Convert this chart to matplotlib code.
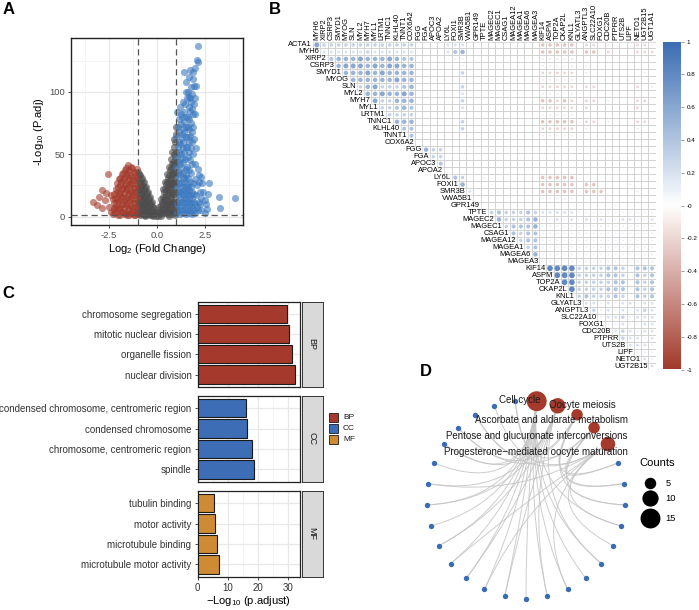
import numpy as np
import matplotlib.pyplot as plt
from matplotlib.colors import LinearSegmentedColormap, Normalize
from matplotlib.patches import Rectangle, PathPatch
from matplotlib.collections import PatchCollection
from matplotlib.path import Path

plt.rcParams['font.family'] = ['Liberation Sans', 'DejaVu Sans']
plt.rcParams['mathtext.fontset'] = 'custom'
plt.rcParams['mathtext.rm'] = 'Liberation Sans'
plt.rcParams['mathtext.default'] = 'regular'
plt.rcParams['axes.unicode_minus'] = False

# ---------------- A: volcano (log2FC, -log10 padj) ----------------
red_pts = [(-1.05, 38), (-1.1, 32), (-1.05, 26), (-1.12, 20), (-1.05, 14), (-1.1, 8), (-1.05, 3),
           (-1.2, 36), (-1.25, 29), (-1.2, 23), (-1.25, 17), (-1.2, 11), (-1.25, 5), (-1.2, 1.5),
           (-1.35, 40), (-1.4, 33), (-1.35, 27), (-1.4, 21), (-1.35, 15), (-1.4, 9), (-1.35, 3),
           (-1.5, 41), (-1.55, 35), (-1.5, 29), (-1.55, 23), (-1.5, 17), (-1.55, 11), (-1.5, 5), (-1.55, 1.5),
           (-1.65, 37), (-1.7, 31), (-1.65, 25), (-1.7, 19), (-1.65, 13), (-1.7, 7), (-1.65, 2),
           (-1.8, 34), (-1.85, 28), (-1.8, 22), (-1.85, 16), (-1.8, 10), (-1.85, 4),
           (-1.95, 30), (-2.0, 24), (-1.95, 18), (-2.0, 12), (-1.95, 6), (-2.0, 1.5),
           (-2.1, 22), (-2.15, 15), (-2.1, 9), (-2.15, 3), (-2.3, 14), (-2.25, 7), (-2.3, 2),
           (-2.56, 34), (-2.87, 21), (-3.3, 11.5), (-2.7, 13), (-2.4, 17), (-2.5, 8),
           (-2.85, 6.5), (-3.0, 16), (-2.65, 19), (-3.1, 9), (-2.4, 4),
           (-1.12, 35), (-1.08, 29), (-1.15, 23), (-1.1, 17), (-1.15, 11), (-1.08, 5.5), (-1.15, 1),
           (-1.28, 39), (-1.3, 32), (-1.28, 26), (-1.3, 20), (-1.28, 14), (-1.3, 8), (-1.3, 2.5),
           (-1.45, 37), (-1.45, 31), (-1.45, 25), (-1.45, 19), (-1.45, 13), (-1.45, 7), (-1.45, 1),
           (-1.6, 39), (-1.6, 33), (-1.6, 27), (-1.6, 21), (-1.6, 15), (-1.6, 9), (-1.6, 3),
           (-1.75, 35), (-1.75, 29), (-1.75, 23), (-1.75, 16), (-1.75, 10), (-1.75, 4),
           (-1.9, 31), (-1.9, 25), (-1.9, 19), (-1.9, 13), (-1.9, 7), (-1.9, 1.5),
           (-2.05, 27), (-2.05, 20), (-2.05, 14), (-2.05, 7), (-2.2, 18), (-2.2, 11), (-2.2, 5)]
grey_pts = [(-0.98, 36), (-0.96, 30), (-0.97, 24), (-0.95, 18), (-0.98, 12), (-0.96, 6), (-0.97, 2),
            (-0.88, 33), (-0.86, 27), (-0.89, 21), (-0.87, 15), (-0.85, 9), (-0.88, 4), (-0.86, 1),
            (-0.78, 31), (-0.76, 25), (-0.79, 19), (-0.75, 13), (-0.77, 7), (-0.76, 2),
            (-0.68, 28), (-0.66, 22), (-0.69, 16), (-0.65, 10), (-0.67, 4), (-0.66, 1),
            (-0.58, 24), (-0.56, 18), (-0.59, 12), (-0.55, 6), (-0.57, 1),
            (-0.48, 20), (-0.46, 14), (-0.49, 8), (-0.45, 3), (-0.38, 16), (-0.36, 10), (-0.39, 5), (-0.35, 1),
            (-0.28, 12), (-0.26, 6), (-0.27, 1), (-0.18, 7), (-0.16, 3), (-0.08, 3), (-0.03, 0.5), (0.03, 0.5),
            (0.08, 4), (0.12, 8), (0.14, 2), (0.2, 14), (0.22, 9), (0.24, 3),
            (0.3, 22), (0.32, 16), (0.31, 10), (0.34, 4), (0.4, 28), (0.42, 22), (0.41, 15), (0.44, 9), (0.43, 3),
            (0.5, 34), (0.52, 28), (0.51, 21), (0.54, 14), (0.53, 8), (0.55, 2),
            (0.6, 40), (0.62, 33), (0.61, 26), (0.64, 19), (0.63, 12), (0.65, 5),
            (0.7, 46), (0.72, 39), (0.71, 31), (0.74, 24), (0.73, 16), (0.75, 9), (0.74, 2),
            (0.8, 52), (0.82, 44), (0.81, 36), (0.84, 28), (0.83, 20), (0.85, 12), (0.84, 5),
            (0.88, 62), (0.9, 56), (0.92, 48), (0.91, 40), (0.94, 32), (0.93, 24), (0.95, 16), (0.96, 8),
            (0.95, 1), (0.97, 72), (0.98, 66), (-0.6, 0.3), (-0.2, 0.3), (0.2, 0.3), (0.6, 0.3),
            (-0.92, 34), (-0.92, 27), (-0.92, 21), (-0.92, 15), (-0.92, 9), (-0.92, 3),
            (-0.82, 30), (-0.82, 24), (-0.82, 18), (-0.82, 12), (-0.82, 6),
            (-0.72, 27), (-0.72, 21), (-0.72, 15), (-0.72, 9), (-0.72, 3),
            (-0.62, 23), (-0.62, 17), (-0.62, 11), (-0.62, 5), (-0.52, 19), (-0.52, 13), (-0.52, 7), (-0.52, 2),
            (-0.42, 15), (-0.42, 10), (-0.42, 4), (-0.32, 11), (-0.32, 6), (-0.32, 2), (-0.22, 8), (-0.22, 3),
            (-0.12, 4), (0.16, 6), (0.26, 12), (0.27, 6), (0.36, 20), (0.37, 13), (0.38, 6),
            (0.46, 26), (0.47, 18), (0.48, 11), (0.47, 5), (0.56, 31), (0.57, 24), (0.58, 17), (0.57, 10),
            (0.58, 4), (0.66, 37), (0.67, 29), (0.68, 22), (0.67, 14), (0.68, 7),
            (0.77, 42), (0.78, 34), (0.78, 27), (0.77, 19), (0.78, 11), (0.78, 4),
            (0.86, 50), (0.87, 42), (0.88, 34), (0.87, 26), (0.88, 18), (0.87, 10), (0.88, 3),
            (0.93, 60), (0.96, 52), (0.97, 44), (0.98, 36), (0.98, 28), (0.98, 20), (0.98, 12), (0.98, 5)]
blue_pts = [(1.05, 3), (1.05, 10), (1.08, 17), (1.05, 24), (1.1, 31),
            (1.2, 2), (1.2, 8), (1.22, 14), (1.2, 20), (1.25, 27), (1.2, 34),
            (1.35, 3), (1.35, 9), (1.38, 15), (1.35, 21), (1.4, 28), (1.35, 35),
            (1.5, 2), (1.5, 8), (1.52, 14), (1.5, 20), (1.55, 26), (1.5, 33),
            (1.65, 3), (1.65, 9), (1.68, 15), (1.65, 21), (1.7, 28),
            (1.8, 2), (1.8, 8), (1.82, 14), (1.8, 20), (1.85, 27),
            (1.95, 3), (1.95, 10), (2.0, 17), (2.05, 25), (2.1, 5), (2.15, 12), (2.2, 20),
            (2.12, 38), (2.27, 32), (2.35, 27), (2.68, 27), (2.17, 33), (2.63, 18), (2.46, 13), (2.54, 10),
            (2.28, 5), (2.6, 6), (3.23, 16), (4.05, 15), (3.28, 7), (2.4, 20), (2.5, 3),
            (1.0, 40), (1.05, 48), (1.1, 56), (1.0, 64), (1.08, 72), (1.02, 84),
            (1.2, 42), (1.25, 50), (1.2, 58), (1.28, 66), (1.22, 74), (1.25, 82), (1.2, 88),
            (1.35, 44), (1.4, 52), (1.35, 60), (1.42, 68), (1.38, 76), (1.4, 84), (1.45, 90),
            (1.55, 40), (1.6, 48), (1.55, 56), (1.62, 64), (1.58, 72), (1.6, 80), (1.65, 88),
            (1.72, 45), (1.75, 55), (1.7, 65), (1.78, 75), (1.72, 85),
            (1.85, 50), (1.9, 62), (1.88, 72), (1.85, 82), (1.92, 90),
            (1.4, 116), (1.51, 108), (1.6, 100), (1.7, 95), (1.75, 104), (1.8, 98), (1.88, 116), (1.97, 119),
            (1.85, 110), (2.09, 126), (2.1, 124), (2.12, 136.5), (1.65, 112), (1.9, 105), (1.78, 92),
            (1.95, 95), (1.55, 95), (1.7, 118),
            (1.12, 5.5), (1.12, 12), (1.15, 20), (1.12, 27), (1.15, 36), (1.12, 44), (1.15, 52), (1.12, 60),
            (1.15, 68), (1.12, 78), (1.3, 5), (1.3, 12), (1.3, 18), (1.3, 24), (1.32, 31), (1.3, 39),
            (1.3, 47), (1.32, 55), (1.3, 63), (1.32, 71), (1.3, 80), (1.32, 92),
            (1.45, 5), (1.45, 11), (1.45, 18), (1.45, 24), (1.45, 31), (1.48, 38), (1.47, 46), (1.48, 56),
            (1.5, 64), (1.48, 72), (1.5, 80), (1.5, 100), (1.6, 5), (1.6, 12), (1.6, 18), (1.6, 24),
            (1.62, 31), (1.65, 37), (1.68, 52), (1.65, 60), (1.68, 70), (1.65, 78), (1.68, 96),
            (1.75, 5), (1.75, 11), (1.75, 17), (1.75, 24), (1.78, 35), (1.8, 42), (1.8, 60), (1.82, 68),
            (1.82, 86), (1.9, 5), (1.9, 12), (1.9, 18), (1.95, 30), (1.95, 42), (2.0, 55), (1.98, 82),
            (2.0, 105), (2.05, 8), (2.25, 10), (2.3, 15), (2.15, 28)]

# ---------------- B: correlation matrix (upper triangle, no diagonal) ----------------
genes = ['ACTA1', 'MYH6', 'XIRP2', 'CSRP3', 'SMYD1', 'MYOG', 'SLN', 'MYL2', 'MYH7', 'MYL1',
         'LRTM1', 'TNNC1', 'KLHL40', 'TNNT1', 'COX6A2', 'FGG', 'FGA', 'APOC3', 'APOA2', 'LY6L',
         'FOXI1', 'SMR3B', 'VWA5B1', 'GPR149', 'TPTE', 'MAGEC2', 'MAGEC1', 'CSAG1', 'MAGEA12',
         'MAGEA1', 'MAGEA6', 'MAGEA3', 'KIF14', 'ASPM', 'TOP2A', 'CKAP2L', 'KNL1', 'GLYATL3',
         'ANGPTL3', 'SLC22A10', 'FOXG1', 'CDC20B', 'PTPRR', 'UTS2B', 'LIPF', 'NETO1', 'UGT2B15', 'UGT1A1']
# one string per row, cells right of the diagonal; '0'-'9' = +0.0..0.9, 'a'-'i' = -0.1..-0.9
corr_rows = [
    "63333333333333" "0000" "22200" "00000000" "ccccc" "0bb0a000bba",
    "2222223222222" "0000" "24500" "00000000" "ccccc" "0cc0b000bbb",
    "455565556544" "0000" "01100" "00000000" "aaaaa" "00000000000",
    "56665656655" "0000" "00100" "00000000" "aaaaa" "0a000000000",
    "5556565555" "0000" "00300" "00000000" "bbbbb" "0a0000000a0",
    "555555655" "0000" "00000" "00000000" "aaaaa" "00000000000",
    "35633345" "0000" "00300" "00000000" "bbbbb" "0bb00000b0a",
    "5565565" "0000" "00200" "00000000" "aaaaa" "00000000000",
    "633555" "0000" "00300" "00000000" "ccbcb" "0bb0a000bb0",
    "33454" "0000" "00200" "00000000" "bbbbb" "0b000000b00",
    "3333" "0000" "00000" "00000000" "aaaaa" "00000000000",
    "555" "0000" "00300" "00000000" "ccccc" "0bb0a000bb0",
    "44" "0000" "00300" "00000000" "bbbbb" "0a000000a00",
    "4" "0000" "00000" "00000000" "aaaaa" "00000000000",
    "0000" "00000" "00000000" "00000" "00000000000",
    "533" "00000" "00000000" "00000" "00000000000",
    "33" "00000" "00000000" "00000" "00000000000",
    "4" "00000" "00000000" "00000" "00000000000",
    "00000" "00000000" "00000" "00000000000",
    "4300" "10000000" "ccccc" "00000000000",
    "500" "01000000" "ccccc" "0cc0000a000",
    "20" "00000000" "ccccc" "0ccc0000a00",
    "0" "00000000" "11111" "00000000000",
    "00000000" "00000" "00000100000",
    "3433343" "22222" "11111111111",
    "533345" "11212" "12121122112",
    "34445" "11111" "11111111111",
    "4344" "11111" "11111111111",
    "344" "11111" "11111111111",
    "34" "11111" "11111111111",
    "5" "11111" "11111111111",
    "11111" "11111111111",
    "8888" "33334430444",
    "888" "33334430434",
    "88" "33333440434",
    "8" "33334440434",
    "34333430434",
    "2212122122",
    "312121232",
    "12231222",
    "1121122",
    "232122",
    "32212",
    "2221",
    "111",
    "21",
    "2",
]

# ---------------- C: GO enrichment ----------------
bp_terms = ['chromosome segregation', 'mitotic nuclear division', 'organelle fission', 'nuclear division']
bp_vals = [29.7, 30.2, 31.4, 32.4]
cc_terms = ['condensed chromosome, centromeric region', 'condensed chromosome',
            'chromosome, centromeric region', 'spindle']
cc_vals = [16.1, 16.3, 18.0, 18.6]
mf_terms = ['tubulin binding', 'motor activity', 'microtubule binding', 'microtubule motor activity']
mf_vals = [5.5, 5.6, 6.3, 7.0]

# ---------------- D: KEGG gene-concept network ----------------
kegg_terms = ['Cell cycle', 'Oocyte meiosis', 'Ascorbate and aldarate metabolism',
              'Pentose and glucuronate interconversions', 'Progesterone\u2212mediated oocyte maturation']
kegg_counts = [15, 9, 5, 5, 8]
n_genes = 24
kegg_links = [
    [3, 5, 6, 7, 8, 9, 10, 11, 12, 13, 14, 15, 16, 18, 19],
    [5, 8, 10, 12, 14, 16, 17, 19, 21],
    [0, 1, 2, 20, 23],
    [0, 1, 2, 20, 23],
    [3, 4, 7, 11, 13, 17, 21, 22],
]

# ================= drawing =================
W, H = 699, 610
fig = plt.figure(figsize=(W / 100, H / 100), dpi=100)


def px_axes(left, top, right, bottom):
    return fig.add_axes([left / W, 1 - bottom / H, (right - left) / W, (bottom - top) / H])


RED, BLUE, ORANGE = '#a53a2c', '#3d6db4', '#cf8b33'
TXT = '#4d4d4d'

# ----- A -----
ax = px_axes(71, 38, 243, 225)
for pts, col in [(grey_pts, '#4d4d4d'), (red_pts, '#a43a2b'), (blue_pts, '#3a78bf')]:
    x, y = zip(*pts)
    ax.scatter(x, y, s=26, color=col, alpha=0.6, linewidths=0, zorder=3)
for v in (-1, 1):
    ax.axvline(v, color='#555555', lw=0.9, ls=(0, (5, 3)), zorder=4)
ax.axhline(-np.log10(0.05), color='#555555', lw=0.9, ls=(0, (5, 3)), zorder=4)
ax.set_xlim(-4.45, 4.45)
ax.set_ylim(-6.8, 143.3)
ax.set_xticks([-2.5, 0, 2.5])
ax.set_xticklabels(['-2.5', '0.0', '2.5'])
ax.set_yticks([0, 50, 100])
ax.set_xticks([-3.75, -1.25, 1.25, 3.75], minor=True)
ax.set_yticks([25, 75, 125], minor=True)
ax.grid(which='major', color='#e8e8e8', lw=0.9)
ax.grid(which='minor', color='#f0f0f0', lw=0.5)
ax.set_axisbelow(True)
ax.tick_params(which='major', labelsize=6.8, labelcolor=TXT, length=2.5, width=0.6, color='#333333', pad=2)
ax.tick_params(which='minor', length=0)
for s in ax.spines.values():
    s.set_color('#222222')
    s.set_linewidth(1.0)
ax.set_xlabel(r'Log$_{2}$ (Fold Change)', fontsize=8, labelpad=1)
ax.set_ylabel(r'-Log$_{10}$ (P.adj)', fontsize=8, labelpad=2)

# ----- B -----
cmap = LinearSegmentedColormap.from_list('corr', ['#a23a2b', '#ffffff', '#3a6db3'])
norm = Normalize(-1, 1)
n = len(corr_rows)
axb = px_axes(313.1, 41.5, 655.7, 369.5)
axb.set_xlim(-0.5, n - 0.5)
axb.set_ylim(n - 0.5, -0.5)
axb.axis('off')
cell_px = 7.1
rects, cx, cy, cs, cc = [], [], [], [], []
for i, row in enumerate(corr_rows):
    for k, ch in enumerate(row):
        j = i + k
        r = int(ch) / 10 if ch.isdigit() else -(ord(ch) - ord('a') + 1) / 10
        rects.append(Rectangle((j - 0.5, i - 0.5), 1, 1))
        if r != 0:
            d = 0.9 * np.sqrt(abs(r)) * cell_px * 0.72
            cx.append(j)
            cy.append(i)
            cs.append(d ** 2)
            cc.append(cmap(norm(r)))
axb.add_collection(PatchCollection(rects, facecolor='none', edgecolor='#cfcfcf', linewidth=0.5))
axb.scatter(cx, cy, s=cs, c=cc, linewidths=0, zorder=3)
for i in range(n):
    axb.text(i - 0.62, i, genes[i], ha='right', va='center', fontsize=5.4)
    axb.text(i, -0.75, genes[i + 1], ha='center', va='bottom', rotation=90, fontsize=5.4)

axc = px_axes(663, 41.5, 681, 369.5)
axc.imshow(np.linspace(1, -1, 256)[:, None], aspect='auto', cmap=cmap, norm=norm,
           extent=(0, 1, -1, 1))
axc.set_xticks([])
axc.yaxis.tick_right()
ticks = np.round(np.arange(-1, 1.01, 0.2), 1)
axc.set_yticks(ticks)
axc.set_yticklabels(['%g' % t for t in ticks])
axc.tick_params(axis='y', labelsize=4.5, length=2, width=0.4, color='#555555', pad=2)
for s in axc.spines.values():
    s.set_visible(False)

# ----- C -----
c_panels = [('BP', bp_terms, bp_vals, RED, 301.7, 386.7),
            ('CC', cc_terms, cc_vals, BLUE, 396, 481.7),
            ('MF', mf_terms, mf_vals, ORANGE, 491, 576.7)]
for idx, (name, terms, vals, col, top, bot) in enumerate(c_panels):
    a = px_axes(197.7, top, 300, bot)
    y = np.arange(len(terms))[::-1]
    a.barh(y, vals, height=0.9, color=col, edgecolor='#1a1a1a', linewidth=0.8, zorder=3)
    a.set_xlim(0, 33.9)
    a.set_ylim(-0.6, len(terms) - 0.4)
    a.set_yticks(y)
    a.set_yticklabels(terms)
    a.set_xticks([0, 10, 20, 30])
    a.set_xticks([5, 15, 25], minor=True)
    a.grid(which='major', color='#e8e8e8', lw=0.9)
    a.grid(which='minor', axis='x', color='#f0f0f0', lw=0.5)
    a.set_axisbelow(True)
    a.tick_params(which='major', labelsize=7, labelcolor='#333333', length=2.5, width=0.6,
                  color='#333333', pad=2)
    a.tick_params(which='minor', length=0)
    if idx < 2:
        a.tick_params(axis='x', length=0, labelbottom=False)
    else:
        a.set_xlabel(r'$-$Log$_{10}$ (p.adjust)', fontsize=8, labelpad=1)
    for s in a.spines.values():
        s.set_color('#222222')
        s.set_linewidth(0.9)
    st = px_axes(301.5, top, 322.7, bot)
    st.set_facecolor('#d9d9d9')
    st.set_xticks([])
    st.set_yticks([])
    for s in st.spines.values():
        s.set_color('#333333')
        s.set_linewidth(0.7)
    st.text(0.5, 0.5, name, rotation=270, ha='center', va='center', fontsize=6.5,
            color='#1a1a1a', transform=st.transAxes)

# ----- D -----
R = 99
axd = px_axes(526 - R, 499.6 - R, 526 + R, 499.6 + R)
axd.set_xlim(-1, 1)
axd.set_ylim(-1, 1)
axd.axis('off')
n_nodes = len(kegg_terms) + n_genes
ang = np.deg2rad(90 - 180 / n_nodes - 360 / n_nodes * np.arange(n_nodes))
nx, ny = np.cos(ang), np.sin(ang)
for t, links in enumerate(kegg_links):
    for g in links:
        gi = len(kegg_terms) + g
        verts = [(nx[t], ny[t]), (0, 0), (nx[gi], ny[gi])]
        p = Path(verts, [Path.MOVETO, Path.CURVE3, Path.CURVE3])
        axd.add_patch(PathPatch(p, fc='none', ec='#c4c4c4', lw=0.7, alpha=0.85, clip_on=False))
gn = slice(len(kegg_terms), n_nodes)
axd.scatter(nx[gn], ny[gn], s=15, color='#3a6cb6', linewidths=0, zorder=3, clip_on=False)


def count_size(c):
    return (2 * np.sqrt(6.6 * c) * 0.72) ** 2


nt = len(kegg_terms)
axd.scatter(nx[:nt], ny[:nt], s=[count_size(c) for c in kegg_counts], color='#a53a2c',
            linewidths=0, zorder=3, clip_on=False)
label_off = [(-16.7, -1), (24.4, -1), (-26, 5.7), (-57.3, 8.4), (-71.6, 8.4)]
for t, name in enumerate(kegg_terms):
    dx, dy = label_off[t]
    axd.text(nx[t] + dx / R, ny[t] - dy / R, name, ha='center', va='center', fontsize=7,
             color='#1a1a1a', zorder=5, clip_on=False)

# ----- overlay: panel letters and legends -----
ov = fig.add_axes([0, 0, 1, 1])
ov.set_xlim(0, W)
ov.set_ylim(H, 0)
ov.axis('off')
for lab, x, y in [('A', 9, 10), ('B', 274.5, 10), ('C', 8, 294), ('D', 425.5, 371.5)]:
    ov.text(x, y, lab, fontsize=12, fontweight='bold', ha='center', va='center')

for name, col, y in [('BP', RED, 412), ('CC', BLUE, 423), ('MF', ORANGE, 434)]:
    ov.add_patch(Rectangle((329.3, y + 0.5), 9, 9.5, facecolor=col, edgecolor='#1a1a1a', lw=0.6))
    ov.text(343, y + 5.2, name, fontsize=6, va='center', ha='left', color='#1a1a1a')

ov.text(656.7, 463.3, 'Counts', fontsize=8, ha='center', va='center')
for c, y in zip([5, 10, 15], [483.3, 498.3, 518.3]):
    ov.scatter([650], [y], s=count_size(c), color='black', linewidths=0)
    ov.text(665.7, y, str(c), fontsize=6.7, ha='left', va='center')

fig.savefig('out.png', dpi=100)
